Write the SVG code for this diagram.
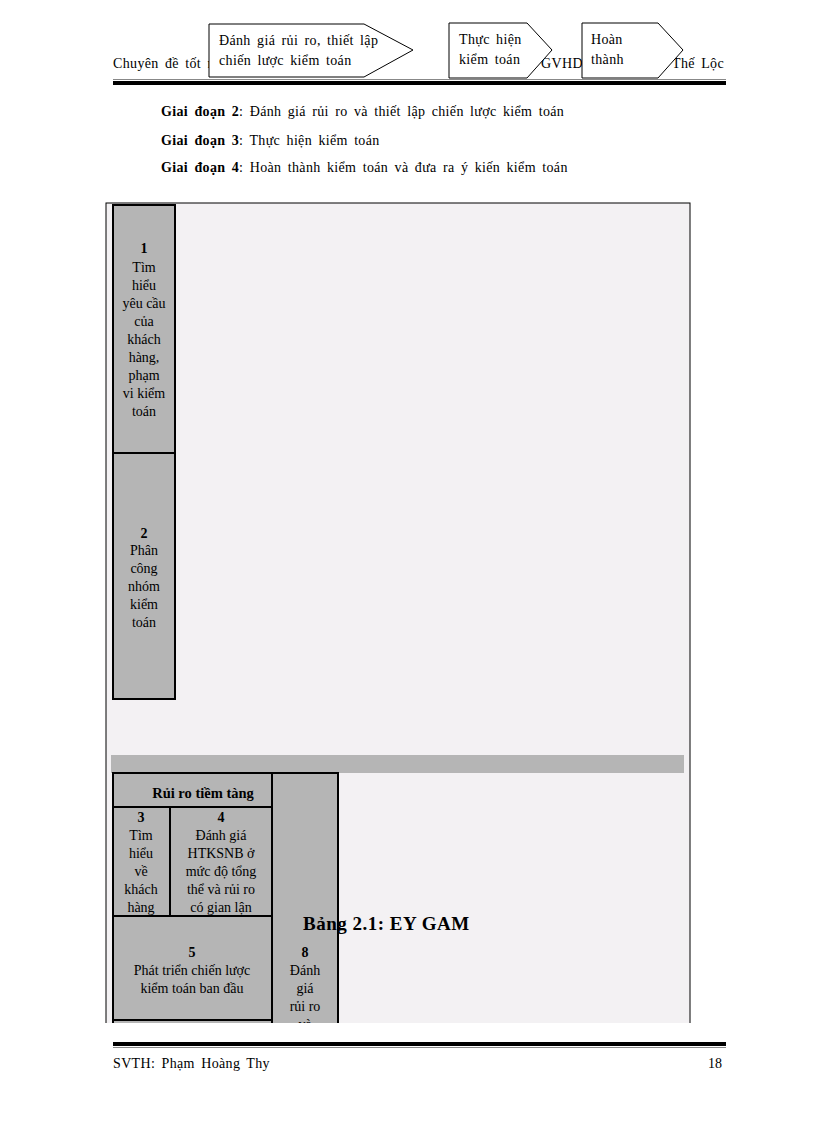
<svg xmlns="http://www.w3.org/2000/svg" width="816" height="1123" viewBox="0 0 816 1123">
<style>
text{font-family:"Liberation Serif","Times New Roman",serif;font-size:14px;fill:#000}
.doc{letter-spacing:0.35px;word-spacing:2.5px}
.b{font-weight:bold}
.c{text-anchor:middle}
.cell{fill:#b5b5b5;stroke:#000;stroke-width:2}
.pent{fill:#fff;stroke:#000;stroke-width:1}
</style>
<defs>
<clipPath id="pg"><rect x="0" y="0" width="816" height="1023"/></clipPath>
</defs>
<rect width="816" height="1123" fill="#fff"/>
<g id="header">
<text class="doc" x="113" y="68">Chuyên  đề tốt n</text>
<text class="doc" x="541" y="68">GVHD</text>
<text class="doc" x="672" y="68">Thế Lộc</text>
<rect x="113" y="79" width="613" height="1" fill="#888"/>
<rect x="113" y="81" width="613" height="4" fill="#000"/>
</g>
<g id="stage2">
<polygon class="pent" points="209,24 364,24 413,50 364,77 209,77"/>
<text class="doc" x="219" y="45">Đánh giá rủi ro, thiết lập</text>
<text class="doc" x="219" y="65">chiến lược kiểm toán</text>
</g>
<g id="stage3">
<polygon class="pent" points="449,23 527,23 552,50 527,78 449,78"/>
<text class="doc" x="459" y="44">Thực hiện</text>
<text class="doc" x="459" y="64">kiểm toán</text>
</g>
<g id="stage4">
<polygon class="pent" points="582,23 658,23 683,50 658,78 582,78"/>
<text class="doc" x="591" y="44">Hoàn</text>
<text class="doc" x="591" y="64">thành</text>
</g>
<g id="body">
<text class="doc" x="161" y="116"><tspan class="b">Giai đoạn 2</tspan>: Đánh giá rủi ro và thiết lập chiến lược kiểm toán</text>
<text class="doc" x="161" y="145"><tspan class="b">Giai đoạn 3</tspan>: Thực hiện kiểm toán</text>
<text class="doc" x="161" y="172"><tspan class="b">Giai đoạn 4</tspan>: Hoàn thành kiểm toán và đưa ra ý kiến kiểm toán</text>
</g>
<g clip-path="url(#pg)">
<g id="frame">
<rect x="106" y="203" width="584" height="840" fill="#f3f1f3" stroke="#000" stroke-width="1"/>
<rect x="111" y="755" width="573" height="18" fill="#b5b5b5"/>
</g>
<g id="n1">
<rect class="cell" x="113" y="205" width="62" height="248"/>
<text class="c" x="144"><tspan class="b" x="144" y="253">1</tspan><tspan x="144" y="272">Tìm</tspan><tspan x="144" y="290">hiểu</tspan><tspan x="144" y="308">yêu cầu</tspan><tspan x="144" y="326">của</tspan><tspan x="144" y="344">khách</tspan><tspan x="144" y="362">hàng,</tspan><tspan x="144" y="380">phạm</tspan><tspan x="144" y="398">vi kiểm</tspan><tspan x="144" y="416">toán</tspan></text>
</g>
<g id="n2">
<rect class="cell" x="113" y="453" width="62" height="246"/>
<text class="c" x="144"><tspan class="b" x="144" y="538">2</tspan><tspan x="144" y="555">Phân</tspan><tspan x="144" y="573">công</tspan><tspan x="144" y="591">nhóm</tspan><tspan x="144" y="609">kiểm</tspan><tspan x="144" y="627">toán</tspan></text>
</g>
<g id="n8">
<rect class="cell" x="272" y="773" width="66" height="300"/>
<text class="c" x="305"><tspan class="b" x="305" y="957">8</tspan><tspan x="305" y="975">Đánh</tspan><tspan x="305" y="993">giá</tspan><tspan x="305" y="1011">rủi ro</tspan><tspan x="305" y="1029">và</tspan></text>
</g>
<g id="risk">
<rect class="cell" x="113" y="773" width="159" height="34"/>
<text class="b c" x="203" y="798" style="font-size:14.5px">Rủi ro tiềm tàng</text>
</g>
<g id="n3">
<rect class="cell" x="113" y="807" width="57" height="109"/>
<text class="c" x="141"><tspan class="b" x="141" y="822">3</tspan><tspan x="141" y="840">Tìm</tspan><tspan x="141" y="858">hiểu</tspan><tspan x="141" y="876">về</tspan><tspan x="141" y="894">khách</tspan><tspan x="141" y="912">hàng</tspan></text>
</g>
<g id="n4">
<rect class="cell" x="170" y="807" width="102" height="109"/>
<text class="c" x="221"><tspan class="b" x="221" y="822">4</tspan><tspan x="221" y="840">Đánh giá</tspan><tspan x="221" y="858">HTKSNB ở</tspan><tspan x="221" y="876">mức độ tổng</tspan><tspan x="221" y="894">thể và rủi ro</tspan><tspan x="221" y="912">có gian lận</tspan></text>
</g>
<g id="n5">
<rect class="cell" x="113" y="916" width="159" height="104"/>
<text class="c" x="192"><tspan class="b" x="192" y="957">5</tspan><tspan x="192" y="975">Phát triển chiến lược</tspan><tspan x="192" y="993">kiểm toán ban đầu</tspan></text>
</g>
<g id="n6">
<rect class="cell" x="113" y="1020" width="159" height="60"/>
</g>
</g>
<g id="caption">
<text class="b" x="303" y="930" style="font-size:19px;letter-spacing:0.5px">Bảng 2.1: EY GAM</text>
</g>
<g id="connectors"></g>
<g id="footer">
<rect x="113" y="1042" width="613" height="4" fill="#000"/>
<rect x="113" y="1047" width="613" height="1" fill="#888"/>
<text class="doc" x="113" y="1068">SVTH: Phạm Hoàng Thy</text>
<text x="722" y="1068" style="text-anchor:end">18</text>
</g>
</svg>
